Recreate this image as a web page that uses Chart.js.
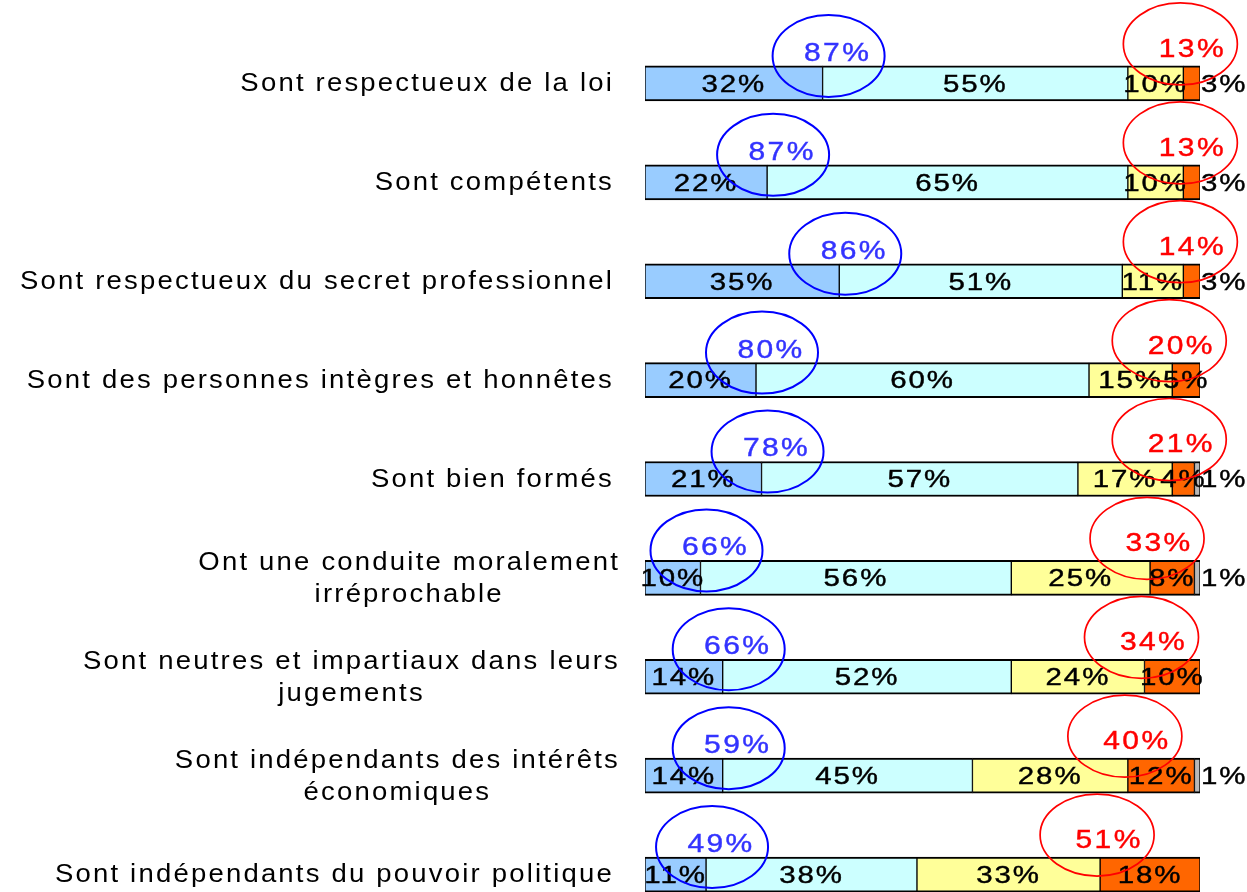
<!DOCTYPE html>
<html>
<head>
<meta charset="utf-8">
<script src="https://cdn.jsdelivr.net/npm/chart.js@4/dist/chart.umd.min.js"></script>
<style>
  html, body { margin: 0; padding: 0; background: #fff; overflow: hidden; }
  #wrap { width: 1247px; height: 930px; }
</style>
</head>
<body>
<div id="wrap"><canvas id="c" width="1247" height="930"></canvas></div>
<script>
// ---- Data ----
const categories = [
  ["Sont respectueux de la loi"],
  ["Sont compétents"],
  ["Sont respectueux du secret professionnel"],
  ["Sont des personnes intègres et honnêtes"],
  ["Sont bien formés"],
  ["Ont une conduite moralement", "irréprochable"],
  ["Sont neutres et impartiaux dans leurs", "jugements"],
  ["Sont indépendants des intérêts", "économiques"],
  ["Sont indépendants du pouvoir politique"]
];
const seriesNames = ["Tout à fait", "Plutôt", "Plutôt pas", "Pas du tout", "NSP"];
const toutAFait  = [32, 22, 35, 20, 21, 10, 14, 14, 11];
const plutot     = [55, 65, 51, 60, 57, 56, 52, 45, 38];
const plutotPas  = [10, 10, 11, 15, 17, 25, 24, 28, 33];
const pasDuTout  = [ 3,  3,  3,  5,  4,  8, 10, 12, 18];
const nsp        = [ 0,  0,  0,  0,  1,  1,  0,  1,  0];
const totalPositive = [87, 87, 86, 80, 78, 66, 66, 59, 49];
const totalNegative = [13, 13, 14, 20, 21, 33, 34, 40, 51];

const seriesColors = ["#99CCFF", "#CCFFFF", "#FFFF99", "#FF6600", "#B8B8B8"];
const allSeries = [toutAFait, plutot, plutotPas, pasDuTout, nsp];

const datasets = allSeries.map((arr, i) => ({
  label: seriesNames[i],
  data: arr.map(v => v === 0 ? null : v),
  backgroundColor: seriesColors[i],
  borderColor: "#000",
  borderWidth: { top: 2, bottom: 2, left: 1, right: 1 },
  borderSkipped: false,
  barThickness: 35
}));

function drawStretched(ctx, text, x, y, sx, align, strokeW) {
  ctx.save();
  ctx.translate(x, y);
  ctx.scale(sx, 1);
  ctx.textAlign = align;
  ctx.fillText(text, 0, 0);
  if (strokeW) {
    ctx.lineWidth = strokeW;
    ctx.strokeStyle = ctx.fillStyle;
    ctx.strokeText(text, 0, 0);
  }
  ctx.restore();
}

const categoryLabels = {
  id: "categoryLabels",
  afterDraw(chart) {
    const ctx = chart.ctx, ys = chart.scales.y;
    ctx.save();
    ctx.font = '25px "Liberation Sans", Arial, sans-serif';
    ctx.letterSpacing = "2px";
    ctx.fillStyle = "#000";
    ctx.textBaseline = "middle";
    const sx = 1.1;
    categories.forEach((lines, j) => {
      const cy = ys.getPixelForValue(j) + 1;
      if (lines.length === 1) {
        drawStretched(ctx, lines[0], 614, cy, sx, "right");
      } else {
        const widths = lines.map(l => ctx.measureText(l).width * sx);
        const maxW = Math.max(...widths);
        const cx = 620 - maxW / 2;
        lines.forEach((l, k) => {
          drawStretched(ctx, l, cx, cy + (k - (lines.length - 1) / 2) * 32, sx, "center");
        });
      }
    });
    ctx.restore();
  }
};

const valueLabels = {
  id: "valueLabels",
  afterDatasetsDraw(chart) {
    const ctx = chart.ctx, xs = chart.scales.x;
    ctx.save();
    ctx.font = '23px "Liberation Sans", Arial, sans-serif';
    ctx.letterSpacing = "1.5px";
    ctx.fillStyle = "#000";
    ctx.textBaseline = "middle";
    chart.data.datasets.forEach((ds, i) => {
      const meta = chart.getDatasetMeta(i);
      meta.data.forEach((el, j) => {
        const v = ds.data[j];
        if (!v) return;
        const y = el.y + 2;
        if (v <= 3) {
          const rowSum = allSeries.reduce((s, a) => s + a[j], 0);
          const endX = xs.getPixelForValue(rowSum);
          drawStretched(ctx, v + "%", endX + 1, y, 1.28, "left", 0.4);
        } else {
          drawStretched(ctx, v + "%", (el.base + el.x) / 2, y, 1.28, "center", 0.4);
        }
      });
    });
    ctx.restore();
  }
};

const totalOvals = {
  id: "totalOvals",
  afterDatasetsDraw(chart) {
    const ctx = chart.ctx, xs = chart.scales.x, ys = chart.scales.y;
    ctx.save();
    ctx.font = '25px "Liberation Sans", Arial, sans-serif';
    ctx.letterSpacing = "2px";
    ctx.textBaseline = "middle";
    categories.forEach((_, j) => {
      const barTop = ys.getPixelForValue(j) - 17.5;
      // positive total
      const bx = xs.getPixelForValue(toutAFait[j]);
      ctx.beginPath();
      ctx.ellipse(bx + 6, barTop - 10, 56, 41, 0, 0, Math.PI * 2);
      ctx.strokeStyle = "#0000FF";
      ctx.lineWidth = 2;
      ctx.stroke();
      ctx.fillStyle = "#3333FF";
      drawStretched(ctx, totalPositive[j] + "%", bx + 15, barTop - 12, 1.2, "center", 0.4);
      // negative total
      const rx = xs.getPixelForValue(toutAFait[j] + plutot[j] + plutotPas[j]);
      ctx.beginPath();
      ctx.ellipse(rx - 3, barTop - 22, 57, 41, 0, 0, Math.PI * 2);
      ctx.strokeStyle = "#FF0000";
      ctx.lineWidth = 1.7;
      ctx.stroke();
      ctx.fillStyle = "#FF0000";
      drawStretched(ctx, totalNegative[j] + "%", rx + 9, barTop - 16, 1.2, "center", 0.4);
    });
    ctx.restore();
  }
};

new Chart(document.getElementById("c"), {
  type: "bar",
  data: { labels: categories.map(l => l.join(" ")), datasets },
  options: {
    indexAxis: "y",
    responsive: false,
    animation: false,
    layout: { padding: { left: 645, right: 47, top: 34, bottom: 6 } },
    plugins: { legend: { display: false }, tooltip: { enabled: false } },
    scales: {
      x: { stacked: true, min: 0, max: 100, display: false },
      y: { stacked: true, display: false }
    }
  },
  plugins: [categoryLabels, valueLabels, totalOvals]
});
</script>
</body>
</html>
